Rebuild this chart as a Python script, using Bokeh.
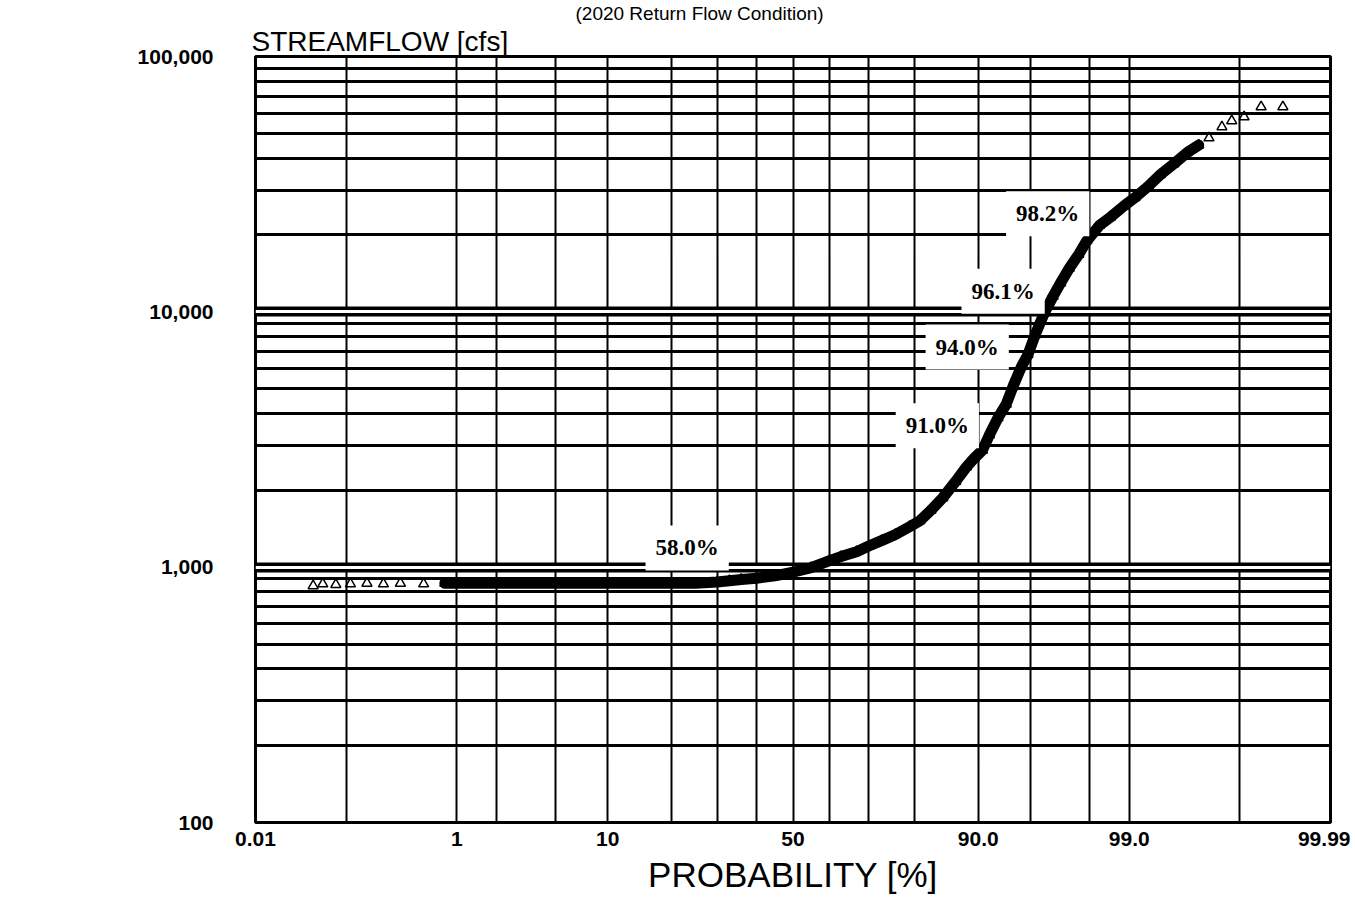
from statistics import NormalDist
from bokeh.plotting import figure
from bokeh.models import Range1d, FixedTicker, Grid, Label, Title
from bokeh.embed import file_html
from bokeh.resources import INLINE

# ---- data (exceedance probability [%], streamflow [cfs]) ----
exceed_prob = [0.045, 0.057, 0.078, 0.11, 0.16, 0.23, 0.33, 0.53, 0.8, 1.2, 2, 3, 5, 8,
               12, 16, 20, 25, 30, 33, 36, 40, 45, 50, 55, 60, 63, 67, 70, 73, 76, 79,
               81, 83, 85, 87, 88.5, 89.5, 90.5, 91.3, 92.2, 93.0, 93.6, 94.3, 94.8,
               95.3, 95.9, 96.4, 96.8, 97.2, 97.6, 97.9, 98.3, 98.6, 98.9, 99.1, 99.3,
               99.45, 99.58, 99.68, 99.75, 99.8, 99.85, 99.88, 99.91, 99.94, 99.965]
streamflow = [845, 860, 855, 860, 865, 860, 865, 860, 865, 865, 865, 865, 865, 865,
              865, 865, 865, 865, 875, 885, 895, 905, 925, 955, 995, 1060, 1100, 1150,
              1210, 1270, 1340, 1440, 1520, 1670, 1870, 2170, 2470, 2670, 2870, 3300,
              3850, 4350, 5100, 6100, 6800, 8100, 9900, 11500, 13000, 14800, 16800,
              19000, 21800, 23500, 26000, 28000, 31000, 34500, 38000, 42000, 45000,
              48000, 53000, 56000, 58000, 63500, 63500]

x_tick_probs = [0.01, 1, 10, 50, 90, 99, 99.99]
x_tick_labels = ["0.01", "1", "10", "50", "90.0", "99.0", "99.99"]
x_grid_probs = [0.01, 0.1, 1, 2, 5, 10, 20, 30, 40, 50, 60, 70, 80, 90, 95, 98, 99, 99.9, 99.99]

y_tick_values = [100, 1000, 10000, 100000]
y_tick_labels = ["100", "1,000", "10,000", "100,000"]
y_minor_grid = [m * 10 ** k for k in (2, 3, 4) for m in range(2, 10)]

note_texts = ["58.0%", "91.0%", "94.0%", "96.1%", "98.2%"]
note_probs = [23.2, 84.1, 88.6, 92.7, 96.1]
note_flows = [1190, 3580, 7280, 12030, 24210]

title_text = "(2020 Return Flow Condition)"
y_title_text = "STREAMFLOW [cfs]"
x_title_text = "PROBABILITY [%]"

nd = NormalDist()


def zq(pct):
    return round(nd.inv_cdf(pct / 100.0), 9)


p = figure(width=1350, height=900, output_backend="svg", toolbar_location=None,
           y_axis_type="log",
           x_range=Range1d(zq(0.01), zq(99.99)), y_range=Range1d(100, 100000),
           min_border_left=255, min_border_right=20, min_border_top=52,
           min_border_bottom=78, title=title_text)

p.background_fill_color = "white"
p.border_fill_color = "white"
p.outline_line_color = "black"
p.outline_line_width = 3
p.outline_line_alpha = 1.0

# main title (outermost, top of page)
p.title.align = "left"
p.title.offset = 320
p.title.text_font = "Liberation Sans"
p.title.text_font_size = "19px"
p.title.text_font_style = "normal"
p.title.text_color = "black"
p.title.standoff = 0

# y quantity title just above the frame, left aligned
p.add_layout(Title(text=y_title_text, align="left", offset=-4, standoff=0,
                   text_font="Liberation Sans", text_font_size="28px",
                   text_font_style="normal", text_color="black"), "above")

# x axis (normal probability scale)
p.xaxis.ticker = FixedTicker(ticks=[zq(v) for v in x_tick_probs])
p.xaxis.major_label_overrides = {zq(v): lab for v, lab in zip(x_tick_probs, x_tick_labels)}
p.xaxis.axis_label = x_title_text
p.xaxis.axis_label_text_font = "Liberation Sans"
p.xaxis.axis_label_text_font_size = "35px"
p.xaxis.axis_label_text_font_style = "normal"
p.xaxis.axis_label_text_color = "black"
p.xaxis.axis_label_standoff = 6
p.xaxis.major_label_standoff = 9

# y axis (log)
p.yaxis.ticker = FixedTicker(ticks=y_tick_values)
p.yaxis.major_label_overrides = {v: lab for v, lab in zip(y_tick_values, y_tick_labels)}
p.yaxis.major_label_standoff = 42

for ax in (p.xaxis, p.yaxis):
    ax.axis_line_color = None
    ax.major_tick_line_color = None
    ax.minor_tick_line_color = None
    ax.major_tick_out = 0
    ax.major_tick_in = 0
    ax.minor_tick_out = 0
    ax.minor_tick_in = 0
    ax.major_label_text_font = "Liberation Sans"
    ax.major_label_text_font_size = "21px"
    ax.major_label_text_font_style = "bold"
    ax.major_label_text_color = "black"

# grid
p.xgrid.ticker = FixedTicker(ticks=[zq(v) for v in x_grid_probs])
p.xgrid.grid_line_color = "black"
p.xgrid.grid_line_width = 2
p.xgrid.grid_line_alpha = 1.0
p.ygrid.ticker = FixedTicker(ticks=y_minor_grid)
p.ygrid.grid_line_color = "black"
p.ygrid.grid_line_width = 3
p.ygrid.grid_line_alpha = 1.0

decade_dark = Grid(dimension=1, ticker=FixedTicker(ticks=y_tick_values),
                   grid_line_color="black", grid_line_width=10)
decade_gap = Grid(dimension=1, ticker=FixedTicker(ticks=y_tick_values),
                  grid_line_color="white", grid_line_width=3)
p.add_layout(decade_dark)
p.add_layout(decade_gap)

# data
zs = [zq(v) for v in exceed_prob]
p.scatter(zs, streamflow, marker="triangle", size=10, fill_color=None,
          line_color="black", line_width=1.5)
p.line(zs[8:61], streamflow[8:61], line_width=11, line_color="black",
       line_join="round", line_cap="round")

# annotation boxes
for t, pr, fl in zip(note_texts, note_probs, note_flows):
    p.add_layout(Label(x=zq(pr), y=fl, text=t, text_align="center",
                       text_baseline="middle", text_font="Liberation Serif",
                       text_font_size="23px", text_font_style="bold",
                       text_color="black", background_fill_color="white",
                       padding=10))

open("out.html", "w").write(file_html(p, INLINE))
